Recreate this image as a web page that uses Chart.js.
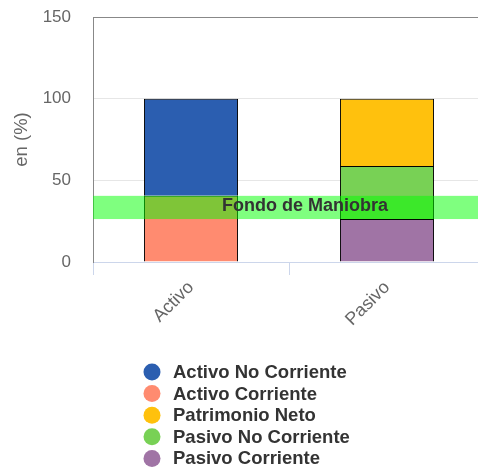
<!DOCTYPE html>
<html>
<head>
<meta charset="utf-8">
<script src="https://cdn.jsdelivr.net/npm/chart.js@4"></script>
<style>
  html, body { margin: 0; padding: 0; background: #fff; overflow: hidden; }
  #wrap { width: 478px; height: 468px; overflow: hidden; }
</style>
</head>
<body>
<div id="wrap"><canvas id="balanceChart" width="486" height="468"></canvas></div>
<script>
// categorias y valores (en %)
var categorias = ["Activo", "Pasivo"];
var activoCorriente = [40.5, null];
var activoNoCorriente = [59.5, null];
var pasivoCorriente = [null, 26.3];
var pasivoNoCorriente = [null, 32.5];
var patrimonioNeto = [null, 41.2];
var yTicks = [0, 50, 100, 150];

// orden de la leyenda
var leyenda = ["Activo No Corriente", "Activo Corriente", "Patrimonio Neto", "Pasivo No Corriente", "Pasivo Corriente"];
var colores = {
  "Activo No Corriente": "#2b5eb0",
  "Activo Corriente": "#ff8b70",
  "Patrimonio Neto": "#ffc10d",
  "Pasivo No Corriente": "#78d155",
  "Pasivo Corriente": "#a074a5"
};

var fondoManiobra = [pasivoCorriente[1], activoCorriente[0]];

var bandPlugin = {
  id: "fondoBand",
  afterDatasetsDraw: function (chart) {
    var c = chart.ctx, a = chart.chartArea, y = chart.scales.y;
    var y1 = y.getPixelForValue(fondoManiobra[1]);
    var y2 = y.getPixelForValue(fondoManiobra[0]);
    c.save();
    c.fillStyle = "rgba(0, 255, 0, 0.5)";
    c.fillRect(a.left, y1, a.right - a.left, y2 - y1);
    c.fillStyle = "#333";
    c.font = "bold 18px 'Liberation Sans', Arial, sans-serif";
    c.textAlign = "center";
    c.textBaseline = "middle";
    c.fillText("Fondo de Maniobra", (a.left + a.right) / 2 + 16, (y1 + y2) / 2 - 1);
    c.restore();
  }
};

var legendPlugin = {
  id: "vertLegend",
  afterDraw: function (chart) {
    var c = chart.ctx;
    c.save();
    c.font = "bold 18.5px 'Liberation Sans', Arial, sans-serif";
    c.textBaseline = "middle";
    c.textAlign = "left";
    leyenda.forEach(function (name, i) {
      var cy = 372 + i * 21.6;
      c.fillStyle = colores[name];
      c.beginPath();
      c.arc(152, cy, 8.5, 0, Math.PI * 2);
      c.fill();
      c.fillStyle = "#333";
      c.fillText(name, 173, cy + 1);
    });
    c.restore();
  }
};

function ds(label, data) {
  return {
    label: label,
    data: data,
    backgroundColor: colores[label],
    borderColor: "#000",
    borderWidth: 1,
    barPercentage: 0.6,
    categoryPercentage: 0.8
  };
}

var ctx = document.getElementById("balanceChart");
var myChart = new Chart(ctx, {
  type: "bar",
  data: {
    labels: categorias,
    datasets: [
      ds("Activo Corriente", activoCorriente),
      ds("Activo No Corriente", activoNoCorriente),
      ds("Pasivo Corriente", pasivoCorriente),
      ds("Pasivo No Corriente", pasivoNoCorriente),
      ds("Patrimonio Neto", patrimonioNeto)
    ]
  },
  options: {
    responsive: false,
    animation: false,
    layout: { padding: { left: 11, top: 17, right: 1, bottom: 126 } },
    plugins: { legend: { display: false }, tooltip: { enabled: false } },
    scales: {
      x: {
        stacked: true,
        afterFit: function (s) { s.height = 80; s.paddingLeft = 0; s.paddingRight = 0; },
        border: { color: "#ccd6eb", width: 1 },
        grid: { drawOnChartArea: false, drawTicks: true, tickLength: 13, color: "#ccd6eb", offset: true },
        ticks: {
          minRotation: 45, maxRotation: 45, color: "#666", padding: 2,
          font: { family: "'Liberation Sans', Arial, sans-serif", size: 18 }
        }
      },
      y: {
        stacked: true,
        min: 0, max: 150,
        afterFit: function (s) { s.width = 82; s.paddingTop = 0; s.paddingBottom = 0; },
        afterBuildTicks: function (s) { s.ticks = yTicks.map(function (v) { return { value: v }; }); },
        border: { color: "#888", width: 1 },
        grid: {
          drawTicks: false,
          color: function (c) { return (c.tick && (c.tick.value === 150 || c.tick.value === 0)) ? "#888" : "#e6e6e6"; },
          lineWidth: 1
        },
        ticks: {
          color: "#666", padding: 22,
          font: { family: "'Liberation Sans', Arial, sans-serif", size: 17 }
        },
        title: {
          display: true, text: "en (%)", color: "#666", padding: { top: 0, bottom: 0 },
          font: { family: "'Liberation Sans', Arial, sans-serif", size: 18.5 }
        }
      }
    }
  },
  plugins: [bandPlugin, legendPlugin]
});
</script>
</body>
</html>
